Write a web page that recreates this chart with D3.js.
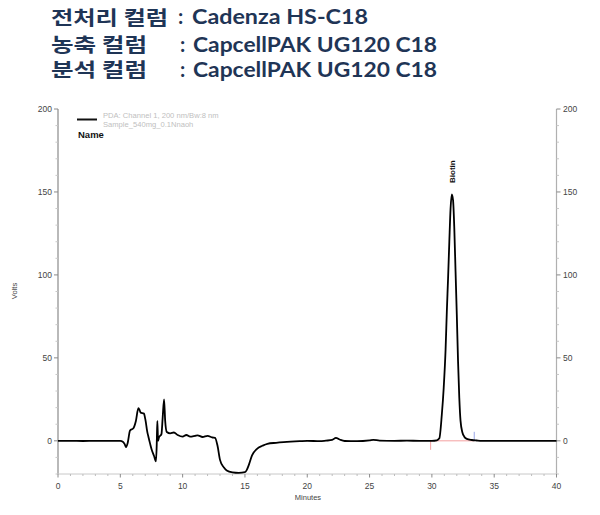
<!DOCTYPE html>
<html><head><meta charset="utf-8">
<script src="https://cdn.jsdelivr.net/npm/d3@7"></script>
<style>body{margin:0;background:#fff}svg{display:block}</style>
</head><body><svg id="c" width="600" height="515"></svg>
<script>
// ---- data ----
const titleLabels = ["전처리 컬럼", "농축 컬럼", "분석 컬럼"];
const titleValues = ["Cadenza  HS-C18", "CapcellPAK UG120 C18", "CapcellPAK UG120 C18"];
const legendLines = ["PDA: Channel 1, 200 nm/Bw:8 nm", "Sample_540mg_0.1Nnaoh"];
const xTicks = [0, 5, 10, 15, 20, 25, 30, 35, 40];
const yTicks = [0, 50, 100, 150, 200];
const peakName = "Biotin";
const peakTime = 31.62;
const peakHeight = 148.8;
const integStart = 29.9;
const integEnd = 33.4;
const times = [0,1,2,3,4,5,5.2,5.35,5.46,5.6,5.78,6.05,6.25,6.45,6.55,6.63,6.9,6.98,7.04,7.15,7.25,7.4,7.52,7.7,7.86,7.92,7.97,8.03,8.1,8.3,8.4,8.51,8.6,8.73,9.0,9.3,9.6,10.0,10.3,10.6,11.0,11.2,11.6,12.0,12.4,12.6,12.8,13.0,13.3,13.54,14.0,14.5,15.0,15.15,15.3,15.57,15.97,16.4,16.8,17.5,18.1,19.4,20,21,21.5,22,22.3,22.6,23,24,25,25.3,25.8,27,28,29,30,30.4,30.6,30.8,30.95,31.1,31.2,31.3,31.4,31.5,31.6,31.7,31.8,31.9,32.0,32.1,32.2,32.3,32.45,32.6,32.8,33.2,33.6,34,36,38,40];
const volts = [0,0,-0.1,0,0,0,-0.5,-2,-3.8,-1,6.2,7.6,12,19.7,18.5,17,16.4,14,11.6,6,2.6,-2,-5.4,-9,-12.4,-3,12,0,2,4,14,25,12,5.3,4.5,5,3.5,2.5,3.5,2.5,3.0,3.3,2.3,3,2.0,1.8,-3,-11.5,-16,-17.9,-19,-19.3,-18.9,-17.5,-14.8,-8.8,-4.8,-3,-1.8,-1.2,-0.8,-0.2,0,-0.2,0.1,0.5,1.8,0.8,-0.1,-0.2,0.3,0.6,0.1,0,0.1,0,0,0.3,1.5,16,32,55,78,98,120,140,148.5,145,128,102,76,48,26,12,5,2.5,1.2,0.5,0.2,0,0,0,0];

// ---- layout ----
const svg = d3.select("#c");
const x = d3.scaleLinear().domain([0, 40]).range([58, 556.5]);
const y = d3.scaleLinear().domain([-20, 200]).range([474, 109]);
const tickFont = "'Liberation Sans', Arial, sans-serif";
const axisCol = "#8a8a8a";

// title
const titleCol = "#1f3556";
const titleY = [24, 51.5, 76.5];
const tg = svg.append("g").attr("font-weight", 700).attr("fill", titleCol);
titleLabels.forEach((t, i) => {
  tg.append("text").attr("x", 51).attr("y", titleY[i] + 0.5).text(t)
    .attr("font-family", "'Noto Sans CJK KR', sans-serif").attr("font-size", 19)
    .attr("textLength", i === 0 ? 117 : 96).attr("lengthAdjust", "spacingAndGlyphs");
  tg.append("text").attr("x", i === 0 ? 178 : 180).attr("y", titleY[i]).text(":")
    .attr("font-family", "Lato, sans-serif").attr("font-size", 20.5);
  tg.append("text").attr("x", i === 0 ? 192 : 193).attr("y", titleY[i]).text(titleValues[i])
    .attr("font-family", "Lato, sans-serif").attr("font-size", 20.5)
    .attr("textLength", i === 0 ? 176 : 244).attr("lengthAdjust", "spacingAndGlyphs");
});

// left / right axes
const yMinor = d3.range(-20, 201, 10);
const gl = svg.append("g");
gl.append("line").attr("x1", 58).attr("x2", 58).attr("y1", y(200)).attr("y2", y(-20)).attr("stroke", axisCol).attr("stroke-width", 1.2);
const gr = svg.append("g");
gr.append("line").attr("x1", 556.5).attr("x2", 556.5).attr("y1", y(200)).attr("y2", y(-20)).attr("stroke", "#b0b0b0").attr("stroke-width", 1.2);
yMinor.forEach(v => {
  const major = yTicks.includes(v);
  gl.append("line").attr("x1", 58).attr("x2", 58 - (major ? 4 : 2.5)).attr("y1", y(v)).attr("y2", y(v)).attr("stroke", major ? axisCol : "#c8c8c8");
  gr.append("line").attr("x1", 556.5).attr("x2", 556.5 + (major ? 4 : 2.5)).attr("y1", y(v)).attr("y2", y(v)).attr("stroke", major ? axisCol : "#c8c8c8");
});
yTicks.forEach(v => {
  gl.append("text").attr("x", 52).attr("y", y(v) + 3).attr("text-anchor", "end").attr("font-family", tickFont).attr("font-size", 8.5).attr("fill", "#444").text(v);
  gr.append("text").attr("x", 563).attr("y", y(v) + 3).attr("text-anchor", "start").attr("font-family", tickFont).attr("font-size", 8.5).attr("fill", "#444").text(v);
});
// bottom axis
const gb = svg.append("g");
gb.append("line").attr("x1", x(0)).attr("x2", x(40)).attr("y1", 474).attr("y2", 474).attr("stroke", "#c8c8c8").attr("stroke-width", 1);
d3.range(0, 41, 1).forEach(t => {
  const major = xTicks.includes(t);
  gb.append("line").attr("x1", x(t)).attr("x2", x(t)).attr("y1", 474).attr("y2", 474 + (major ? 3.5 : 2)).attr("stroke", major ? axisCol : "#bdbdbd");
});
xTicks.forEach(t => {
  gb.append("text").attr("x", x(t)).attr("y", 489).attr("text-anchor", "middle").attr("font-family", tickFont).attr("font-size", 8.5).attr("fill", "#444").text(t);
});
svg.append("text").attr("x", 308).attr("y", 500).attr("text-anchor", "middle").attr("font-family", tickFont).attr("font-size", 7.5).attr("fill", "#444").text("Minutes");
svg.append("text").attr("transform", "translate(17,291) rotate(-90)").attr("text-anchor", "middle").attr("font-family", tickFont).attr("font-size", 7.5).attr("fill", "#444").text("Volts");

// legend
svg.append("line").attr("x1", 77).attr("x2", 97).attr("y1", 119.5).attr("y2", 119.5).attr("stroke", "#111").attr("stroke-width", 2);
legendLines.forEach((t, i) => {
  svg.append("text").attr("x", 103).attr("y", 117.5 + i * 9.5).attr("font-family", tickFont).attr("font-size", 7.6).attr("fill", "#c0c0c0").text(t);
});
svg.append("text").attr("x", 78).attr("y", 137.5).attr("font-family", tickFont).attr("font-size", 9.5).attr("font-weight", 700).attr("fill", "#111").text("Name");

// integration baseline marks
svg.append("line").attr("x1", x(integStart)).attr("x2", x(integEnd)).attr("y1", y(0)).attr("y2", y(0)).attr("stroke", "#f4a0a0").attr("stroke-width", 1);
svg.append("line").attr("x1", x(integStart)).attr("x2", x(integStart)).attr("y1", y(0)).attr("y2", y(0) + 9).attr("stroke", "#f4a0a0").attr("stroke-width", 1);
svg.append("line").attr("x1", x(integEnd)).attr("x2", x(integEnd)).attr("y1", y(0) - 9).attr("y2", y(0)).attr("stroke", "#9aa6e8").attr("stroke-width", 1);

// trace
const pts = times.map((t, i) => [t, volts[i]]);
svg.append("path").datum(pts)
  .attr("d", d3.line().x(d => x(d[0])).y(d => y(d[1])).curve(d3.curveMonotoneX))
  .attr("fill", "none").attr("stroke", "#000").attr("stroke-width", 1.8).attr("stroke-linejoin", "round");

// peak label
svg.append("text").attr("transform", `translate(${x(peakTime) + 3},${y(peakHeight) - 11}) rotate(-90)`)
  .attr("font-family", tickFont).attr("font-size", 8).attr("font-weight", 700).attr("fill", "#111").text(peakName);
</script></body></html>
